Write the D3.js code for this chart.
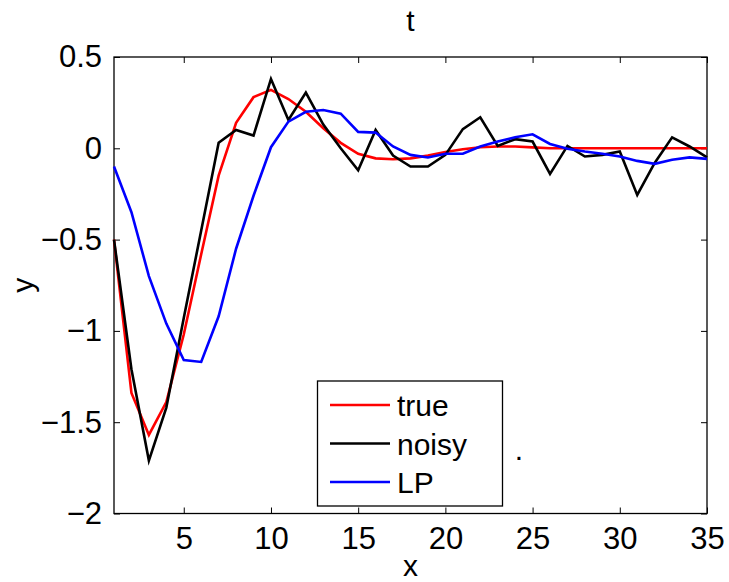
<!DOCTYPE html>
<html>
<head>
<meta charset="utf-8">
<script src="https://cdn.jsdelivr.net/npm/d3@7"></script>
<style>
  body { margin: 0; background: #fff; }
  svg { display: block; font-family: "Liberation Sans", Arial, sans-serif; }
</style>
</head>
<body>
<div id="chart"></div>
<script>
var xValues = d3.range(1, 36);
var trueValues = [-0.50, -1.34, -1.57, -1.39, -1.02, -0.58, -0.15, 0.14, 0.28, 0.32,
    0.27, 0.20, 0.11, 0.03, -0.03, -0.055, -0.06, -0.055, -0.04, -0.02,
    -0.005, 0.006, 0.01, 0.01, 0.005, 0, 0, 0, 0, 0, 0, 0, 0, 0, 0];
var noisyValues = [-0.50, -1.21, -1.71, -1.42, -0.93, -0.45, 0.03, 0.10, 0.07, 0.38,
    0.155, 0.305, 0.13, 0.0, -0.12, 0.10, -0.04, -0.10, -0.10, -0.036,
    0.105, 0.17, 0.013, 0.05, 0.037, -0.14, 0.013, -0.045, -0.036, -0.018,
    -0.255, -0.08, 0.06, 0.01, -0.05];
var lpValues = [-0.10, -0.35, -0.70, -0.96, -1.16, -1.17, -0.92, -0.55, -0.26, 0.006,
    0.146, 0.20, 0.21, 0.19, 0.09, 0.086, 0.01, -0.036, -0.05, -0.03,
    -0.03, 0.01, 0.037, 0.06, 0.077, 0.024, -0.003, -0.018, -0.03, -0.045,
    -0.069, -0.085, -0.063, -0.05, -0.058];
var xTicks = [5, 10, 15, 20, 25, 30, 35];
var yTicks = [-2, -1.5, -1, -0.5, 0, 0.5];
var seriesNames = ["true", "noisy", "LP"];
var seriesColors = ["#ff0000", "#000000", "#0000ff"];

var width = 729, height = 582;
var margin = {left: 114, right: 22, top: 57, bottom: 68.5};

var svg = d3.select("#chart").append("svg")
    .attr("width", width)
    .attr("height", height);

var x = d3.scaleLinear().domain([1, 35]).range([margin.left, width - margin.right]);
var y = d3.scaleLinear().domain([-2, 0.5]).range([height - margin.bottom, margin.top]);

function fmt(d) {
    return d < 0 ? "\u2212" + Math.abs(d) : String(d);
}

// box with inward ticks on all four sides
function styleAxis(g) {
    g.select(".domain").remove();
    g.selectAll(".tick line").attr("stroke", "#000").attr("stroke-width", 1);
    g.selectAll(".tick text").attr("font-size", 31).attr("fill", "#000");
}

svg.append("g")
    .attr("transform", "translate(0," + y(-2) + ")")
    .call(d3.axisBottom(x).tickValues(xTicks).tickSizeInner(-6).tickPadding(13).tickFormat(fmt))
    .call(styleAxis);
svg.append("g")
    .attr("transform", "translate(0," + y(0.5) + ")")
    .call(d3.axisTop(x).tickValues(xTicks).tickSizeInner(-6).tickFormat(""))
    .call(styleAxis);
svg.append("g")
    .attr("transform", "translate(" + x(1) + ",0)")
    .call(d3.axisLeft(y).tickValues(yTicks).tickSizeInner(-6).tickPadding(12).tickFormat(fmt))
    .call(styleAxis);
svg.append("g")
    .attr("transform", "translate(" + x(35) + ",0)")
    .call(d3.axisRight(y).tickValues(yTicks).tickSizeInner(-6).tickFormat(""))
    .call(styleAxis);

svg.append("rect")
    .attr("x", x(1)).attr("y", y(0.5))
    .attr("width", x(35) - x(1)).attr("height", y(-2) - y(0.5))
    .attr("fill", "none").attr("stroke", "#000").attr("stroke-width", 1.3);

var line = d3.line()
    .x(function (d) { return x(d[0]); })
    .y(function (d) { return y(d[1]); });

[trueValues, noisyValues, lpValues].forEach(function (vals, i) {
    svg.append("path")
        .datum(xValues.map(function (xv, j) { return [xv, vals[j]]; }))
        .attr("d", line)
        .attr("fill", "none")
        .attr("stroke", seriesColors[i])
        .attr("stroke-width", 2.6)
        .attr("stroke-linejoin", "miter");
});

// legend
var legend = svg.append("g").attr("transform", "translate(317.5,381)");
legend.append("rect")
    .attr("width", 185).attr("height", 125)
    .attr("fill", "#fff").attr("stroke", "#000").attr("stroke-width", 1.3);
seriesNames.forEach(function (name, i) {
    var ly = 24 + i * 38.5;
    legend.append("line")
        .attr("x1", 12.5).attr("x2", 72.5)
        .attr("y1", ly).attr("y2", ly)
        .attr("stroke", seriesColors[i]).attr("stroke-width", 2.6);
    legend.append("text")
        .attr("x", 79.5).attr("y", ly + 11)
        .attr("font-size", 30)
        .text(name);
});

svg.append("text")
    .attr("x", 519).attr("y", 460)
    .attr("font-size", 30)
    .attr("text-anchor", "middle")
    .text(".");

svg.append("text")
    .attr("x", (x(1) + x(35)) / 2).attr("y", 31)
    .attr("font-size", 30)
    .attr("text-anchor", "middle")
    .text("t");

svg.append("text")
    .attr("x", (x(1) + x(35)) / 2).attr("y", 576)
    .attr("font-size", 30)
    .attr("text-anchor", "middle")
    .text("x");

svg.append("text")
    .attr("transform", "translate(33," + (y(-0.75)) + ") rotate(-90)")
    .attr("font-size", 30)
    .attr("text-anchor", "middle")
    .text("y");
</script>
</body>
</html>
